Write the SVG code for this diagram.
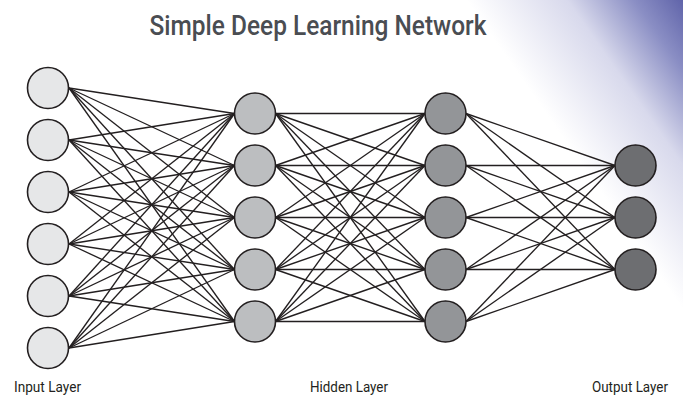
<svg xmlns="http://www.w3.org/2000/svg" width="683" height="398" viewBox="0 0 683 398">
<defs>
<linearGradient id="bg" gradientUnits="userSpaceOnUse" x1="690" y1="0" x2="540" y2="105">
<stop offset="0" stop-color="#5a5ea6"/>
<stop offset="0.25" stop-color="#8a8ec4"/>
<stop offset="0.55" stop-color="#d8d9ec"/>
<stop offset="1" stop-color="#ffffff"/>
</linearGradient>
<style>
.n{stroke:#231f20;stroke-width:1.6}
.in{fill:#e6e7e8}.h1{fill:#bcbec0}.h2{fill:#939598}.out{fill:#6d6e71}
#edges line{stroke:#231f20;stroke-width:1.35}
.t{font-family:Roboto,"DejaVu Sans Condensed","Liberation Sans",sans-serif;font-weight:500;fill:#4a4d52}
.lbl{font-family:Roboto,"DejaVu Sans Condensed","Liberation Sans",sans-serif;fill:#231f20;font-size:14px}
</style>
</defs>
<rect width="683" height="398" fill="#ffffff"/>
<rect width="683" height="398" fill="url(#bg)"/>
<text class="t" x="318" y="35" font-size="27" text-anchor="middle" textLength="337" lengthAdjust="spacingAndGlyphs">Simple Deep Learning Network</text>
<g id="edges">
<line x1="69" y1="88" x2="234.5" y2="113.5"/><line x1="69" y1="88" x2="234.5" y2="165.5"/><line x1="69" y1="88" x2="234.5" y2="217.5"/><line x1="69" y1="88" x2="234.5" y2="269.5"/><line x1="69" y1="88" x2="234.5" y2="321.5"/>
<line x1="69" y1="140" x2="234.5" y2="113.5"/><line x1="69" y1="140" x2="234.5" y2="165.5"/><line x1="69" y1="140" x2="234.5" y2="217.5"/><line x1="69" y1="140" x2="234.5" y2="269.5"/><line x1="69" y1="140" x2="234.5" y2="321.5"/>
<line x1="69" y1="192" x2="234.5" y2="113.5"/><line x1="69" y1="192" x2="234.5" y2="165.5"/><line x1="69" y1="192" x2="234.5" y2="217.5"/><line x1="69" y1="192" x2="234.5" y2="269.5"/><line x1="69" y1="192" x2="234.5" y2="321.5"/>
<line x1="69" y1="244" x2="234.5" y2="113.5"/><line x1="69" y1="244" x2="234.5" y2="165.5"/><line x1="69" y1="244" x2="234.5" y2="217.5"/><line x1="69" y1="244" x2="234.5" y2="269.5"/><line x1="69" y1="244" x2="234.5" y2="321.5"/>
<line x1="69" y1="296" x2="234.5" y2="113.5"/><line x1="69" y1="296" x2="234.5" y2="165.5"/><line x1="69" y1="296" x2="234.5" y2="217.5"/><line x1="69" y1="296" x2="234.5" y2="269.5"/><line x1="69" y1="296" x2="234.5" y2="321.5"/>
<line x1="69" y1="348" x2="234.5" y2="113.5"/><line x1="69" y1="348" x2="234.5" y2="165.5"/><line x1="69" y1="348" x2="234.5" y2="217.5"/><line x1="69" y1="348" x2="234.5" y2="269.5"/><line x1="69" y1="348" x2="234.5" y2="321.5"/>
<line x1="275.5" y1="113.5" x2="425" y2="113.5"/><line x1="275.5" y1="113.5" x2="425" y2="165.5"/><line x1="275.5" y1="113.5" x2="425" y2="217.5"/><line x1="275.5" y1="113.5" x2="425" y2="269.5"/><line x1="275.5" y1="113.5" x2="425" y2="321.5"/>
<line x1="275.5" y1="165.5" x2="425" y2="113.5"/><line x1="275.5" y1="165.5" x2="425" y2="165.5"/><line x1="275.5" y1="165.5" x2="425" y2="217.5"/><line x1="275.5" y1="165.5" x2="425" y2="269.5"/><line x1="275.5" y1="165.5" x2="425" y2="321.5"/>
<line x1="275.5" y1="217.5" x2="425" y2="113.5"/><line x1="275.5" y1="217.5" x2="425" y2="165.5"/><line x1="275.5" y1="217.5" x2="425" y2="217.5"/><line x1="275.5" y1="217.5" x2="425" y2="269.5"/><line x1="275.5" y1="217.5" x2="425" y2="321.5"/>
<line x1="275.5" y1="269.5" x2="425" y2="113.5"/><line x1="275.5" y1="269.5" x2="425" y2="165.5"/><line x1="275.5" y1="269.5" x2="425" y2="217.5"/><line x1="275.5" y1="269.5" x2="425" y2="269.5"/><line x1="275.5" y1="269.5" x2="425" y2="321.5"/>
<line x1="275.5" y1="321.5" x2="425" y2="113.5"/><line x1="275.5" y1="321.5" x2="425" y2="165.5"/><line x1="275.5" y1="321.5" x2="425" y2="217.5"/><line x1="275.5" y1="321.5" x2="425" y2="269.5"/><line x1="275.5" y1="321.5" x2="425" y2="321.5"/>
<line x1="466" y1="113.5" x2="615" y2="165.5"/><line x1="466" y1="113.5" x2="615" y2="217.5"/><line x1="466" y1="113.5" x2="615" y2="269.5"/>
<line x1="466" y1="165.5" x2="615" y2="165.5"/><line x1="466" y1="165.5" x2="615" y2="217.5"/><line x1="466" y1="165.5" x2="615" y2="269.5"/>
<line x1="466" y1="217.5" x2="615" y2="165.5"/><line x1="466" y1="217.5" x2="615" y2="217.5"/><line x1="466" y1="217.5" x2="615" y2="269.5"/>
<line x1="466" y1="269.5" x2="615" y2="165.5"/><line x1="466" y1="269.5" x2="615" y2="217.5"/><line x1="466" y1="269.5" x2="615" y2="269.5"/>
<line x1="466" y1="321.5" x2="615" y2="165.5"/><line x1="466" y1="321.5" x2="615" y2="217.5"/><line x1="466" y1="321.5" x2="615" y2="269.5"/>
</g>
<g id="input">
<circle id="i1" class="n in" cx="48" cy="88" r="20.5"/>
<circle id="i2" class="n in" cx="48" cy="140" r="20.5"/>
<circle id="i3" class="n in" cx="48" cy="192" r="20.5"/>
<circle id="i4" class="n in" cx="48" cy="244" r="20.5"/>
<circle id="i5" class="n in" cx="48" cy="296" r="20.5"/>
<circle id="i6" class="n in" cx="48" cy="348" r="20.5"/>
</g>
<g id="hidden1">
<circle id="a1" class="n h1" cx="255" cy="113.5" r="20.5"/>
<circle id="a2" class="n h1" cx="255" cy="165.5" r="20.5"/>
<circle id="a3" class="n h1" cx="255" cy="217.5" r="20.5"/>
<circle id="a4" class="n h1" cx="255" cy="269.5" r="20.5"/>
<circle id="a5" class="n h1" cx="255" cy="321.5" r="20.5"/>
</g>
<g id="hidden2">
<circle id="b1" class="n h2" cx="445.5" cy="113.5" r="20.5"/>
<circle id="b2" class="n h2" cx="445.5" cy="165.5" r="20.5"/>
<circle id="b3" class="n h2" cx="445.5" cy="217.5" r="20.5"/>
<circle id="b4" class="n h2" cx="445.5" cy="269.5" r="20.5"/>
<circle id="b5" class="n h2" cx="445.5" cy="321.5" r="20.5"/>
</g>
<g id="output">
<circle id="o1" class="n out" cx="635.5" cy="165.5" r="20.5"/>
<circle id="o2" class="n out" cx="635.5" cy="217.5" r="20.5"/>
<circle id="o3" class="n out" cx="635.5" cy="269.5" r="20.5"/>
</g>
<text class="lbl" x="14" y="392" textLength="67" lengthAdjust="spacingAndGlyphs">Input Layer</text>
<text class="lbl" x="310" y="392" textLength="78" lengthAdjust="spacingAndGlyphs">Hidden Layer</text>
<text class="lbl" x="592" y="392" textLength="76" lengthAdjust="spacingAndGlyphs">Output Layer</text>
</svg>
